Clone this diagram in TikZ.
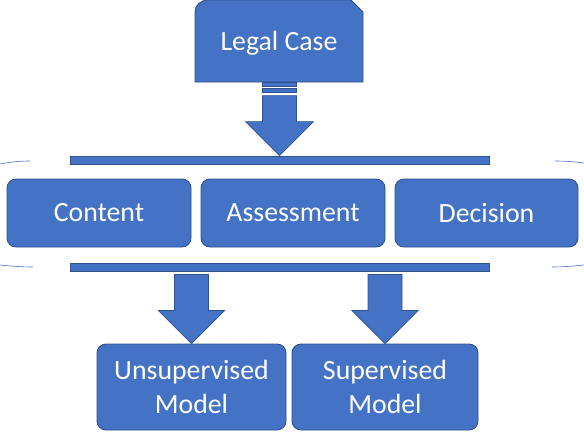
\documentclass[tikz,border=0pt]{standalone}
\usepackage{fontspec}
\setmainfont{Carlito}
\usetikzlibrary{calc}
\definecolor{boxblue}{HTML}{4472C4}
\definecolor{boxline}{HTML}{2F528F}
\begin{document}
\begin{tikzpicture}[
  x=1pt, y=-1pt,
  box/.style={rectangle, rounded corners=9pt, draw=boxline, fill=boxblue,
    line width=0.9pt, text=white, inner sep=0pt, align=center,
    font=\fontsize{27.8}{33.5}\selectfont, minimum height=68pt},
  bar/.style={rectangle, draw=boxline, fill=boxblue, line width=0.8pt,
    inner sep=0pt, minimum width=419pt, minimum height=8pt},
  blockarrow/.style={draw=boxline, fill=boxblue, line width=0.7pt},
  edgeline/.style={draw=boxblue, line width=0.6pt}
]
  \useasboundingbox (0,0) rectangle (584,432);

  % top case box
  \draw[blockarrow, line width=0.9pt] (195,82) -- (195,12)
    .. controls (195,5) and (201,0) .. (208,0) -- (351,0) -- (363,12)
    -- (363,82) -- cycle;
  \node[text=white, font=\fontsize{27.8}{33.5}\selectfont] (legal) at (279,43) {Legal Case};

  % bars
  \node[bar] (topbar) at (279.5,160) {};
  \node[bar] (botbar) at (279.5,267) {};

  % middle row
  \node[box, minimum width=184pt] (content) at (99,213) {Content};
  \node[box, minimum width=184pt] (assess) at (293,213) {Assessment};
  \node[box, minimum width=183pt] (decision) at (486.5,213) {Decision};

  % bottom row
  \node[box, minimum width=189pt, minimum height=86pt] (unsup) at (191.5,387) {Unsupervised\\Model};
  \node[box, minimum width=186pt, minimum height=86pt] (sup) at (385,387) {Supervised\\Model};

  % block arrows
  \draw[blockarrow] (topbar.north) -- ++(-34,-34) -- ++(17,0) -- ++(0,-26)
    -- ++(34,0) -- ++(0,26) -- ++(17,0) -- cycle;
  \draw[blockarrow] ($(topbar.north)+(-17,-63)$) rectangle ++(34,-4);
  \draw[blockarrow] ($(topbar.north)+(-17,-69)$) rectangle ++(34,-4);
  \draw[blockarrow] (unsup.north) -- ++(-33,-33) -- ++(16,0) -- ++(0,-36)
    -- ++(34,0) -- ++(0,36) -- ++(16,0) -- cycle;
  \draw[blockarrow] (sup.north) -- ++(-33,-33) -- ++(16,0) -- ++(0,-36)
    -- ++(34,0) -- ++(0,36) -- ++(16,0) -- cycle;

  % group outline ends
  \draw[edgeline] (0,164) .. controls (10,162) and (20,161) .. (30,161);
  \draw[edgeline] (0,265) .. controls (10,266) and (22,267) .. (33,267);
  \draw[edgeline] (555,161) .. controls (566,161) and (576,162) .. (584,163);
  \draw[edgeline] (552,267) .. controls (563,267) and (574,266) .. (584,265);
\end{tikzpicture}
\end{document}
